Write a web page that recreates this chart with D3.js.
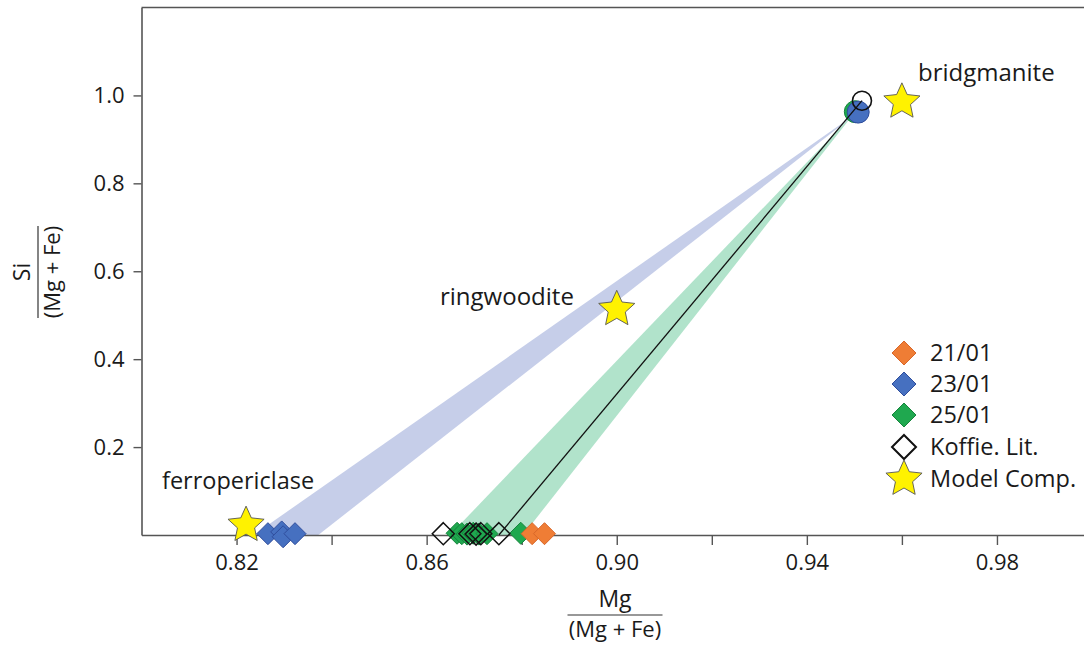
<!DOCTYPE html>
<html>
<head>
<meta charset="utf-8">
<script src="https://cdn.jsdelivr.net/npm/d3@7"></script>
<style>
  html, body { margin: 0; padding: 0; background: #fff; }
  svg text { font-family: "Open Sans", "Noto Sans", sans-serif; fill: #1a1a1a; }
</style>
</head>
<body>
<svg id="chart" width="1084" height="645"></svg>
<script>
// Mg/(Mg+Fe) vs Si/(Mg+Fe) of run products and model compositions
const run2101 = { x: [0.8822, 0.8848], y: [0.003, 0.003] };
const run2301 = { x: [0.8266, 0.8295, 0.8298, 0.8323], y: [0.003, 0.007, -0.004, 0.003] };
const run2501 = { x: [0.8664, 0.8674, 0.8685, 0.8698, 0.8710, 0.8727, 0.8798], y: [0.004, 0.003, 0.002, 0.004, 0.002, 0.003, 0.004] };
const koffieLit = { x: [0.8635, 0.8691, 0.8704, 0.8714, 0.8752], y: [0.003, 0.003, 0.002, 0.003, 0.003] };

// bridgmanite analyses (circles)
const bdgGreen = { x: 0.9502, y: 0.963 };
const bdgBlue = { x: 0.9508, y: 0.962 };
const bdgKoffie = { x: 0.9516, y: 0.988 };

// model compositions (stars)
const modelNames = ["bridgmanite", "ringwoodite", "ferropericlase"];
const modelX = [0.960, 0.900, 0.822];
const modelY = [0.990, 0.518, 0.027];

// tie-line fields (bottom range -> bridgmanite)
const fieldBlueX = [0.8236, 0.8372];
const fieldGreenX = [0.8649, 0.8803];
const koffieTieX = 0.8752;

// axes
const xTickValues = [0.82, 0.84, 0.86, 0.88, 0.90, 0.92, 0.94, 0.96, 0.98];
const xTickLabels = [0.82, 0.86, 0.90, 0.94, 0.98];
const yTickValues = [0.2, 0.4, 0.6, 0.8, 1.0];

const legendLabels = ["21/01", "23/01", "25/01", "Koffie. Lit.", "Model Comp."];

const col = {
  orange: "#ef7d35", orangeEdge: "#d8672a",
  blue: "#4670c0", blueEdge: "#2f4d9c",
  green: "#1fa84f", greenEdge: "#16843c",
  star: "#fff200", starEdge: "#555",
  bandBlue: "#c6cee9", bandGreen: "#b1e3cb"
};

const svg = d3.select("#chart");
const x = d3.scaleLinear().domain([0.80, 1.00]).range([141.5, 1092]);
const y = d3.scaleLinear().domain([0, 1.2]).range([535, 7.5]);

// fields
function field(xs, top, fill) {
  const pts = [[x(xs[0]), y(0)], [x(xs[1]), y(0)], [x(top.x), y(top.y)]];
  svg.append("path").attr("d", d3.line()(pts) + "Z").attr("fill", fill).attr("stroke", "none");
}
field(fieldGreenX, bdgGreen, col.bandGreen);
field(fieldBlueX, bdgBlue, col.bandBlue);

// frame
const frame = svg.append("g").attr("fill", "none").attr("stroke", "#555").attr("stroke-width", 1.6);
frame.append("line").attr("x1", x(0.80)).attr("x2", 1084).attr("y1", y(1.2)).attr("y2", y(1.2));

// x axis
const xAxis = d3.axisBottom(x).tickValues(xTickValues).tickSizeInner(10).tickSizeOuter(0)
  .tickFormat(d => xTickLabels.some(v => Math.abs(v - d) < 1e-9) ? d3.format(".2f")(d) : "");
const gx = svg.append("g").attr("transform", `translate(0,${y(0)})`).call(xAxis);
gx.select(".domain").attr("stroke", "#555").attr("stroke-width", 1.6);
gx.selectAll(".tick line").attr("stroke", "#555").attr("stroke-width", 1.4);
gx.selectAll(".tick text").attr("font-size", 22).attr("dy", "1.05em").attr("y", 12).attr("fill", "#1a1a1a")
  .style("font-family", '"Open Sans", sans-serif');

// y axis
const yAxis = d3.axisLeft(y).tickValues(yTickValues).tickSizeInner(8).tickSizeOuter(0)
  .tickFormat(d3.format(".1f"));
const gy = svg.append("g").attr("transform", `translate(${x(0.80)},0)`).call(yAxis);
gy.select(".domain").attr("stroke", "#555").attr("stroke-width", 1.6);
gy.selectAll(".tick line").attr("stroke", "#555").attr("stroke-width", 1.4);
gy.selectAll(".tick text").attr("font-size", 22).attr("x", -17).attr("fill", "#1a1a1a")
  .style("font-family", '"Open Sans", sans-serif');

// axis titles as fractions
function fraction(cx, cy, rot, num, den, w) {
  const g = svg.append("g").attr("transform", `translate(${cx},${cy}) rotate(${rot})`);
  g.append("text").attr("x", 0).attr("y", -8).attr("text-anchor", "middle").attr("font-size", 23).text(num);
  g.append("line").attr("x1", -w / 2).attr("x2", w / 2).attr("y1", 0).attr("y2", 0)
    .attr("stroke", "#333").attr("stroke-width", 1.2);
  g.append("text").attr("x", 0).attr("y", 22).attr("text-anchor", "middle").attr("font-size", 22).text(den);
}
fraction(615, 615, 0, "Mg", "(Mg + Fe)", 95);
fraction(38, 272, -90, "Si", "(Mg + Fe)", 92);

// bridgmanite circles
svg.append("circle").attr("cx", x(bdgGreen.x)).attr("cy", y(bdgGreen.y)).attr("r", 11)
  .attr("fill", col.green).attr("stroke", col.greenEdge).attr("stroke-width", 1);
svg.append("circle").attr("cx", x(bdgBlue.x)).attr("cy", y(bdgBlue.y)).attr("r", 11)
  .attr("fill", col.blue).attr("stroke", col.blueEdge).attr("stroke-width", 1);
svg.append("circle").attr("cx", x(bdgKoffie.x)).attr("cy", y(bdgKoffie.y)).attr("r", 9.5)
  .attr("fill", "none").attr("stroke", "#111").attr("stroke-width", 1.6);

// tie line for literature data
svg.append("line").attr("x1", x(koffieTieX)).attr("y1", y(0)).attr("x2", x(bdgKoffie.x)).attr("y2", y(bdgKoffie.y))
  .attr("stroke", "#111").attr("stroke-width", 1.3);

// star shape
function starPath(R, r) {
  const pts = [];
  for (let i = 0; i < 10; i++) {
    const a = -Math.PI / 2 + i * Math.PI / 5;
    const rad = i % 2 === 0 ? R : r;
    pts.push([rad * Math.cos(a), rad * Math.sin(a)]);
  }
  return d3.line()(pts) + "Z";
}
const diamond = s => `M0,${-s}L${s},0L0,${s}L${-s},0Z`;

// model compositions
modelNames.forEach((name, i) => {
  svg.append("path").attr("d", starPath(19, 9)).attr("transform", `translate(${x(modelX[i])},${y(modelY[i]) + 2})`)
    .attr("fill", col.star).attr("stroke", col.starEdge).attr("stroke-width", 0.9);
});
const labelPos = [[918, 81, 24], [440, 305, 24], [162, 489, 23.5]];
modelNames.forEach((name, i) => {
  svg.append("text").attr("x", labelPos[i][0]).attr("y", labelPos[i][1]).attr("font-size", labelPos[i][2]).text(name);
});

// run product diamonds
function diamonds(set, fill, stroke, sw) {
  set.x.forEach((v, i) => {
    svg.append("path").attr("d", diamond(11)).attr("transform", `translate(${x(v)},${y(set.y[i])})`)
      .attr("fill", fill).attr("stroke", stroke).attr("stroke-width", sw);
  });
}
diamonds(run2501, col.green, col.greenEdge, 1);
diamonds(koffieLit, "none", "#111", 1.5);
diamonds(run2101, col.orange, col.orangeEdge, 1);
diamonds(run2301, col.blue, col.blueEdge, 1);

// legend
const legY = [353, 384, 415, 447, 479];
const lg = svg.append("g");
const legMarks = [
  g => g.append("path").attr("d", diamond(12)).attr("fill", col.orange).attr("stroke", col.orangeEdge),
  g => g.append("path").attr("d", diamond(12)).attr("fill", col.blue).attr("stroke", col.blueEdge),
  g => g.append("path").attr("d", diamond(12)).attr("fill", col.green).attr("stroke", col.greenEdge),
  g => g.append("path").attr("d", diamond(12)).attr("fill", "#fff").attr("stroke", "#111").attr("stroke-width", 2),
  g => g.append("path").attr("d", starPath(19, 9)).attr("fill", col.star).attr("stroke", col.starEdge).attr("stroke-width", 0.9)
];
legendLabels.forEach((t, i) => {
  const g = lg.append("g").attr("transform", `translate(904,${legY[i]})`);
  legMarks[i](g);
  lg.append("text").attr("x", 930).attr("y", legY[i] + 8).attr("font-size", 23.5).text(t);
});
</script>
</body>
</html>
